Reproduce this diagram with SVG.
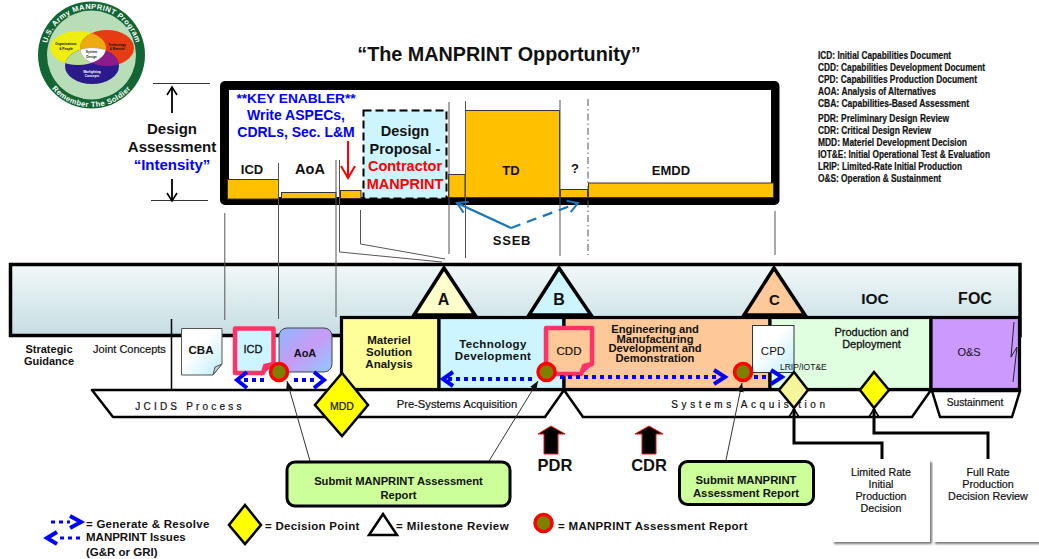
<svg xmlns="http://www.w3.org/2000/svg" width="1039" height="559" viewBox="0 0 1039 559">
<style>
text{font-family:"Liberation Sans",Arial,sans-serif;fill:#111}
.c{text-anchor:middle}
.b{font-weight:bold}
.bar{fill:#ffc000;stroke:#333;stroke-width:1}
.v{stroke:#555;stroke-width:1;fill:none}
.ph{stroke:#000;stroke-width:3.2}
.tri{stroke:#000;stroke-width:3.5;stroke-linejoin:miter}
.proc{fill:#fff;stroke:#000;stroke-width:2.5;stroke-linejoin:round}
.sub{fill:#ccff99;stroke:#000;stroke-width:3}
.dia{stroke:#000;stroke-width:2.5}
.mar{fill:#808000;stroke:#ff0000;stroke-width:3.5}
.dot{stroke:#0000ff;stroke-width:4;stroke-dasharray:4 4;fill:none}
.head{stroke:#0000ff;stroke-width:4;fill:none}
.leader{stroke:#333;stroke-width:1;fill:none}
.thick{stroke:#000;stroke-width:3;fill:none}
.leg{font-size:10px;font-weight:bold}
.pink{stroke:#ff3366;stroke-width:4.500;stroke-linejoin:round}
.up{fill:#000;stroke:#ee1111;stroke-width:1}
.ssb{stroke:#1a75bc;stroke-width:2.2;fill:none}
</style>
<defs>
<linearGradient id="band" x1="0" y1="0" x2="0" y2="1"><stop offset="0" stop-color="#f2f8f9"/><stop offset="1" stop-color="#c6dde2"/></linearGradient>
<linearGradient id="paper" x1="0" y1="0" x2="1" y2="1"><stop offset="0.4" stop-color="#fff"/><stop offset="1" stop-color="#bdeefa"/></linearGradient>
<linearGradient id="aoa" x1="0" y1="0" x2="1" y2="1"><stop offset="0" stop-color="#8fb8ff"/><stop offset="0.5" stop-color="#c79bf5"/><stop offset="1" stop-color="#8fc8ff"/></linearGradient>
<filter id="sh" x="-10%" y="-10%" width="125%" height="125%"><feDropShadow dx="2" dy="2" stdDeviation="1" flood-color="#555" flood-opacity="0.8"/></filter>
<marker id="ah" markerWidth="10" markerHeight="10" refX="9" refY="5" orient="auto" markerUnits="userSpaceOnUse"><path d="M0 1.500L9 5L0 8.500Z" fill="#111"/></marker>
<marker id="openb" markerWidth="16" markerHeight="16" refX="13" refY="8" orient="auto" markerUnits="userSpaceOnUse"><path d="M3 2L13 8L3 14" fill="none" stroke="#1a75bc" stroke-width="2"/></marker>
<marker id="openr" markerWidth="18" markerHeight="18" refX="15" refY="9" orient="auto" markerUnits="userSpaceOnUse"><path d="M3 2L15 9L3 16" fill="none" stroke="#ff0000" stroke-width="2"/></marker>
<marker id="openk" markerWidth="14" markerHeight="14" refX="11" refY="7" orient="auto" markerUnits="userSpaceOnUse"><path d="M3 2L11 7L3 12" fill="none" stroke="#000" stroke-width="1.600"/></marker>
<clipPath id="cy"><ellipse cx="78" cy="48" rx="28" ry="17"/></clipPath>
<clipPath id="cr"><ellipse cx="107" cy="48" rx="27" ry="18"/></clipPath>
<path id="arcT" d="M45.500 55A46 46 0 0 1 137.500 55"/>
<path id="arcB" d="M39.500 55A52 52 0 0 0 143.500 55"/>
</defs>

<g id="logo">
<circle cx="91.500" cy="55" r="53.500" fill="#116633"/>
<circle cx="91.500" cy="55" r="44.500" fill="#b8ddb8"/>
<ellipse cx="78" cy="48" rx="28" ry="17" fill="#eeee11"/>
<ellipse cx="107" cy="48" rx="27" ry="18" fill="#e63c14"/>
<ellipse cx="92" cy="66" rx="27" ry="18" fill="#2b1a8c"/>
<g clip-path="url(#cy)"><ellipse cx="107" cy="48" rx="27" ry="18" fill="#eeaa11"/><ellipse cx="92" cy="66" rx="27" ry="18" fill="#b8dd99"/></g>
<g clip-path="url(#cr)"><ellipse cx="92" cy="66" rx="27" ry="18" fill="#8c1c8c"/></g>
<g clip-path="url(#cy)"><g clip-path="url(#cr)"><ellipse cx="92" cy="66" rx="27" ry="18" fill="#fff"/></g></g>
<text font-size="7.500" class="b" style="fill:#fff;letter-spacing:.4px"><textPath href="#arcT" startOffset="50%" text-anchor="middle">U.S. Army MANPRINT Program</textPath></text>
<text font-size="7.500" class="b" style="fill:#fff;letter-spacing:.4px"><textPath href="#arcB" startOffset="50%" text-anchor="middle">Remember The Soldier</textPath></text>
<g font-size="3.200" class="b" text-anchor="middle">
<text x="66" y="45">Organizations</text><text x="66" y="49.500">&amp; People</text>
<text x="117" y="45.500">Technology</text><text x="117" y="49.500">&amp; Materiel</text>
<text x="91.500" y="53">System</text><text x="91.500" y="58">Design</text>
<text x="92" y="72.500" style="fill:#fff">Warfighting</text><text x="92" y="77" style="fill:#fff">Concepts</text>
</g>
</g>

<g id="title"><text x="499" y="61" class="c b" font-size="19.800">“The MANPRINT  Opportunity”</text></g>

<g id="glossary" font-size="9.500" style="stroke:#111;stroke-width:.2">
<text class="leg" x="818" y="59" textLength="133" lengthAdjust="spacingAndGlyphs">ICD: Initial Capabilities Document</text>
<text class="leg" x="818" y="71" textLength="167" lengthAdjust="spacingAndGlyphs">CDD: Capabilities Development Document</text>
<text class="leg" x="818" y="83" textLength="159" lengthAdjust="spacingAndGlyphs">CPD: Capabilities Production Document</text>
<text class="leg" x="818" y="95" textLength="118" lengthAdjust="spacingAndGlyphs">AOA: Analysis of Alternatives</text>
<text class="leg" x="818" y="107" textLength="151" lengthAdjust="spacingAndGlyphs">CBA:  Capabilities-Based Assessment</text>
<text class="leg" x="818" y="122" textLength="131" lengthAdjust="spacingAndGlyphs">PDR:  Preliminary Design Review</text>
<text class="leg" x="818" y="134" textLength="113" lengthAdjust="spacingAndGlyphs">CDR: Critical Design Review</text>
<text class="leg" x="818" y="146" textLength="149" lengthAdjust="spacingAndGlyphs">MDD:  Materiel Development Decision</text>
<text class="leg" x="818" y="158" textLength="172" lengthAdjust="spacingAndGlyphs">IOT&amp;E: Initial Operational Test &amp; Evaluation</text>
<text class="leg" x="818" y="170" textLength="144" lengthAdjust="spacingAndGlyphs">LRIP: Limited-Rate Initial Production</text>
<text class="leg" x="818" y="182" textLength="123" lengthAdjust="spacingAndGlyphs">O&amp;S: Operation &amp; Sustainment</text>
</g>

<g id="intensity-scale">
<path d="M153 83.500H210M151 200.500H208" stroke="#333" stroke-width="1" fill="none"/>
<path d="M172 113V87" class="thick" marker-end="url(#openk)" style="stroke-width:1.800"/>
<path d="M172 179V201" class="thick" marker-end="url(#openk)" style="stroke-width:1.800"/>
<text x="172" y="134" class="c b" font-size="15">Design</text>
<text x="172" y="152" class="c b" font-size="15">Assessment</text>
<text x="172" y="170" class="c b" font-size="15" style="fill:#0000ff">“Intensity”</text>
</g>

<g id="intensity-chart">
<rect x="220" y="81" width="559.500" height="124" rx="5" fill="#000"/>
<rect x="229" y="90" width="542" height="107" fill="#fff"/>
<rect class="bar" x="227.500" y="179.500" width="51" height="19.500"/>
<rect class="bar" x="281.500" y="192.500" width="54.500" height="6"/>
<rect class="bar" x="340.500" y="190.500" width="20.500" height="8"/>
<rect class="bar" x="448.500" y="174.500" width="16.500" height="23"/>
<rect class="bar" x="465.500" y="110.500" width="94" height="87"/>
<rect class="bar" x="560.500" y="189.500" width="27" height="8"/>
<rect class="bar" x="588.500" y="183" width="185" height="14.500"/>
<text x="296" y="103" class="c b" font-size="13.700" style="fill:#0000ff">**KEY ENABLER**</text>
<text x="296" y="120" class="c b" font-size="14" style="fill:#0000ff">Write ASPECs,</text>
<text x="296" y="137" class="c b" font-size="14" style="fill:#0000ff">CDRLs, Sec. L&amp;M</text>
<text x="252" y="174" class="c b" font-size="13">ICD</text>
<text x="310" y="174" class="c b" font-size="14.500">AoA</text>
<path d="M348 141V178" stroke="#ff0000" stroke-width="2" marker-end="url(#openr)"/>
<text x="511" y="175" class="c b" font-size="13">TD</text>
<text x="575" y="173" class="c b" font-size="13">?</text>
<text x="671" y="175" class="c b" font-size="13">EMDD</text>
</g>

<g id="design-proposal">
<rect x="363.500" y="110.500" width="83" height="88" fill="#ccf5ff" stroke="#000" stroke-width="2" stroke-dasharray="8 4"/>
<text x="405" y="136" class="c b" font-size="14.500">Design</text>
<text x="405" y="153.500" class="c b" font-size="14.500">Proposal -</text>
<text x="405" y="171" class="c b" font-size="14.500" style="fill:#ff0000">Contractor</text>
<text x="405" y="189" class="c b" font-size="14.500" style="fill:#ff0000">MANPRINT</text>
</g>

<g id="band-node"><rect x="10.500" y="264.500" width="1009.500" height="71" fill="url(#band)" stroke="#000" stroke-width="3.500"/></g>

<g id="guide-lines">
<path class="v" d="M224.800 213V320M278.500 163V319M336 160V317"/>
<path class="v" d="M339.500 160V252L442 262M360.500 210V244L445 259"/>
<path class="v" d="M449 102V254M465.500 101V258M560 100V256M775 211V255"/>
<path class="v" stroke-dasharray="7 3 1.500 3" d="M588 99V255"/>
<path d="M171.500 319V390" stroke="#000" stroke-width="1.500"/>
</g>

<g id="sseb">
<path class="ssb" d="M511 228L457 203" marker-end="url(#openb)"/>
<path class="ssb" d="M511 228L578 203" stroke-dasharray="10 7" marker-end="url(#openb)"/>
<text x="512" y="245" class="c b" font-size="13" style="letter-spacing:.8px">SSEB</text>
</g>

<g id="phase-msa"><rect class="ph" x="341.500" y="317.500" width="97.500" height="72" fill="#ffff99"/>
<text x="389" y="344" class="c b" font-size="11.500">Materiel</text><text x="389" y="356" class="c b" font-size="11.500">Solution</text><text x="389" y="368" class="c b" font-size="11.500">Analysis</text></g>
<g id="phase-td"><rect class="ph" x="439" y="317.500" width="125" height="72" fill="#ccf5ff"/>
<text x="493" y="348" class="c b" font-size="11.500" style="letter-spacing:.4px">Technology</text><text x="493" y="360" class="c b" font-size="11.500" style="letter-spacing:.4px">Development</text></g>
<g id="phase-emd"><rect class="ph" x="564" y="317.500" width="206" height="72" fill="#ffc899"/>
<g class="b" font-size="11.200" text-anchor="middle"><text x="655" y="333">Engineering and</text><text x="655" y="343">Manufacturing</text><text x="655" y="352">Development and</text><text x="655" y="362">Demonstration</text></g></g>
<g id="phase-pd"><rect class="ph" x="770" y="317.500" width="161" height="72" fill="#e0ffe0"/>
<text x="871.500" y="336" class="c" font-size="11" style="stroke:#111;stroke-width:.3">Production and</text><text x="871.500" y="347.500" class="c" font-size="11" style="stroke:#111;stroke-width:.3">Deployment</text></g>
<g id="phase-os"><rect class="ph" x="931" y="317.500" width="88.500" height="72" fill="#cc99ff"/>
<text x="969" y="356" class="c" font-size="11">O&amp;S</text>
<path d="M1014 322L1011 357L1017 347L1013 382" fill="none" stroke="#222" stroke-width="1"/></g>

<g id="milestone-a"><path class="tri" d="M444 268L414 315H475Z" fill="#ffffcc"/><text x="443.500" y="305" class="c b" font-size="16">A</text></g>
<g id="milestone-b"><path class="tri" d="M559 268L529 315H591Z" fill="#ccf5ff"/><text x="559" y="305" class="c b" font-size="16">B</text></g>
<g id="milestone-c"><path class="tri" d="M774 268L744 315H805Z" fill="#ffc899"/><text x="774.500" y="305" class="c b" font-size="15">C</text></g>
<text x="875" y="304" class="c b" font-size="15.500">IOC</text>
<text x="975" y="304" class="c b" font-size="16">FOC</text>

<text x="49" y="353" class="c b" font-size="11">Strategic</text>
<text x="49" y="364.500" class="c b" font-size="11">Guidance</text>
<text x="129.500" y="353" class="c" font-size="11" style="stroke:#111;stroke-width:.2">Joint Concepts</text>

<g id="process">
<path class="proc" d="M92 390H340V417H113Z"/>
<path class="proc" d="M340 390H564L545 417H345Z"/>
<path class="proc" d="M564 390L583 417H912L931 390Z"/>
<path class="proc" d="M932 391L940 417H1012L1020 391Z"/>
<text x="190" y="410" class="c" font-size="10" style="letter-spacing:3.200px;stroke:#111;stroke-width:.2">JCIDS Process</text>
<text x="457" y="408" class="c" font-size="11.200" style="stroke:#111;stroke-width:.2">Pre-Systems Acquisition</text>
<text x="750" y="408" class="c" font-size="10" style="letter-spacing:3.600px;stroke:#111;stroke-width:.2">Systems Acquisition</text>
<text x="975" y="406" class="c" font-size="10.200" style="stroke:#111;stroke-width:.2">Sustainment</text>
</g>

<g id="cba"><path d="M181.500 328.500H222V364L213 375H181.500Z" fill="url(#paper)" stroke="#555" stroke-width="1"/><path d="M213 375L215 367L222 364Z" fill="#b9d3cf" stroke="#555" stroke-width="1"/><text x="201" y="354" class="c b" font-size="11.500">CBA</text></g>
<g id="icd"><path class="pink" d="M235 328.500H273.500V364L265 366L263 373H235Z" fill="#ccf5ff"/><path d="M273.500 364L265 366L263 373Z" fill="#ff3366" stroke="#ff3366" stroke-width="2"/><text x="253" y="353" class="c" font-size="11" style="stroke:#111;stroke-width:.3">ICD</text></g>
<g id="aoa-doc"><rect x="279" y="328" width="53" height="44" rx="8" fill="url(#aoa)" stroke="#444" stroke-width="1"/><text x="305" y="357" class="c b" font-size="11">AoA</text></g>
<g id="cdd"><path class="pink" d="M546 328H592V364L584 366L581 374H546Z" fill="#ffc899"/><path d="M592 364L584 366L581 374Z" fill="#ff3366" stroke="#ff3366" stroke-width="2"/><text x="569" y="355" class="c" font-size="11.500" style="stroke:#111;stroke-width:.2">CDD</text></g>
<g id="cpd"><rect x="752.500" y="325.500" width="41.500" height="47" fill="url(#paper)" stroke="#333" stroke-width="1"/><text x="773" y="355" class="c" font-size="11.500">CPD</text></g>
<text x="780" y="370" font-size="8.500">LRIP/IOT&amp;E</text>

<g id="connectors">
<path class="dot" d="M244 380H268"/><path class="head" d="M247 372L237 380L247 388"/>
<path class="dot" d="M294 380H318"/><path class="head" d="M314 372L324 380L314 388"/>
<path class="dot" d="M448 379H534"/><path class="head" d="M453 372L443 379L453 386"/>
<path class="dot" d="M560 377H716"/><path class="head" d="M714 370L725 377L714 384"/>
<path class="dot" d="M754 377H768"/><path class="head" d="M771 370L782 377L771 384"/>
<path class="leader" d="M310 461L287 381" marker-end="url(#ah)"/>
<path class="leader" d="M489 461L538 381" marker-end="url(#ah)"/>
<path class="leader" d="M726 460L742 383" marker-end="url(#ah)"/>
<path d="M882 459V443H794V409" class="thick" marker-end="url(#openk)"/>
<path d="M988 459V433H874V409" class="thick" marker-end="url(#openk)"/>
</g>

<g id="mdd"><path class="dia" d="M342 373L368 405L342 436L315 405Z" fill="#ffff00"/><text x="342" y="410" class="c" font-size="10.500" style="stroke:#111;stroke-width:.2">MDD</text></g>
<g id="lrip-decision"><path class="dia" d="M794 372L808 390L794 408L779 390Z" fill="#f5f59a"/></g>
<g id="frp-decision"><path class="dia" d="M874 372L889 390L874 408L860 390Z" fill="#ffff00"/></g>

<g id="report-icd"><circle class="mar" cx="279" cy="372" r="8.500"/></g>
<g id="report-cdd"><circle class="mar" cx="546.500" cy="372" r="8.500"/></g>
<g id="report-cpd"><circle class="mar" cx="743" cy="372" r="8.500"/></g>

<g id="submit-1"><rect class="sub" x="287" y="462" width="223" height="44" rx="8"/>
<text x="398.500" y="485" class="c b" font-size="11.200">Submit MANPRINT Assessment</text><text x="398.500" y="499" class="c b" font-size="11.200">Report</text></g>
<g id="submit-2"><rect class="sub" x="679.500" y="461.500" width="134" height="43" rx="8"/>
<text x="746" y="484" class="c b" font-size="11.300">Submit MANPRINT</text><text x="746" y="497" class="c b" font-size="11.300">Assessment Report</text></g>

<g id="pdr"><path class="up" d="M551 426L565 434H558V454H544V434H538Z"/><text x="555" y="471" class="c b" font-size="16.500">PDR</text></g>
<g id="cdr"><path class="up" d="M649 426L663 434H656V454H642V434H635Z"/><text x="649" y="471" class="c b" font-size="16.500">CDR</text></g>

<g id="lrip-review"><rect x="832" y="460" width="98" height="82" fill="#fff" filter="url(#sh)"/>
<g font-size="10.700" style="text-anchor:middle;stroke:#111;stroke-width:.2"><text x="881" y="476">Limited Rate</text><text x="881" y="488">Initial</text><text x="881" y="500">Production</text><text x="881" y="512">Decision</text></g></g>
<g id="frp-review"><rect x="933" y="460" width="110" height="82" fill="#fff" filter="url(#sh)"/>
<g font-size="10.800" style="text-anchor:middle;stroke:#111;stroke-width:.2"><text x="988" y="476">Full Rate</text><text x="988" y="488">Production</text><text x="988" y="500">Decision Review</text></g></g>

<g id="legend">
<path class="dot" d="M51 522H70" style="stroke-width:3"/><path class="head" d="M70 516L81 522L70 528"/>
<path class="dot" d="M80 538H57" style="stroke-width:3"/><path class="head" d="M57 532L47 538L57 544"/>
<text x="86" y="528" class="b" font-size="11.500" style="letter-spacing:.25px">= Generate &amp; Resolve</text>
<text x="86" y="541" class="b" font-size="11.500">MANPRINT Issues</text>
<text x="86" y="556" class="b" font-size="11.500">(G&amp;R or GRI)</text>
<path class="dia" d="M245 505L261 525L245 544L229 525Z" fill="#ffff00"/>
<text x="265" y="530" class="b" font-size="11.500" style="letter-spacing:.3px">= Decision Point</text>
<path d="M383 514L369 535H397Z" fill="#fff" stroke="#000" stroke-width="2.500"/>
<text x="396" y="530" class="b" font-size="11.500" style="letter-spacing:.4px">= Milestone Review</text>
<circle class="mar" cx="543.500" cy="523" r="8.500"/>
<text x="558" y="530" class="b" font-size="11.500" style="letter-spacing:.3px">= MANPRINT Assessment Report</text>
</g>
</svg>
